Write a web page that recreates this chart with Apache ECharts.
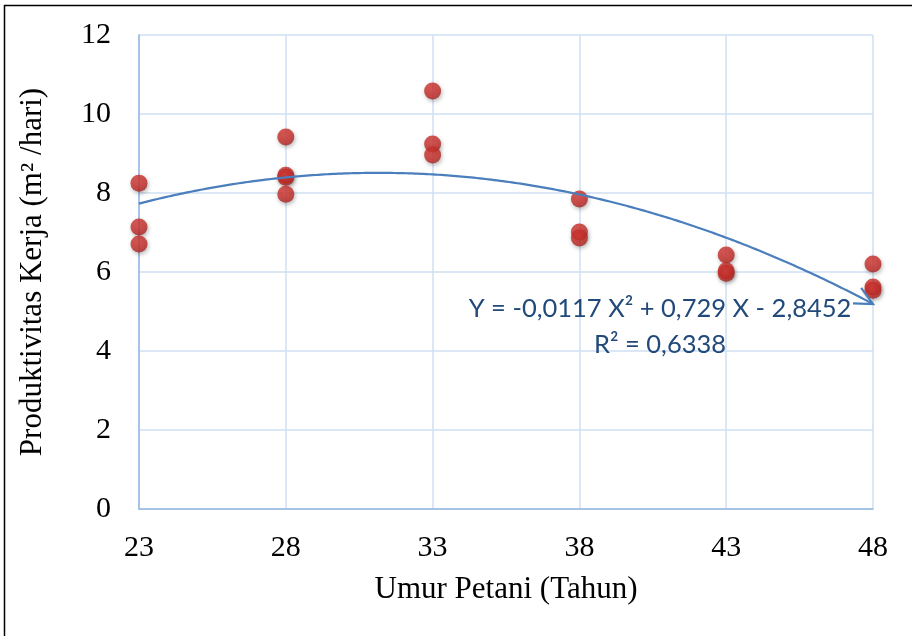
<!DOCTYPE html>
<html>
<head>
<meta charset="utf-8">
<script src="https://cdn.jsdelivr.net/npm/echarts@6/dist/echarts.min.js"></script>
<style>
  html, body { margin: 0; padding: 0; background: #fff; }
  #chart { width: 912px; height: 636px; }
</style>
</head>
<body>
<div id="chart"></div>
<script>
// Farmer age (years) and work productivity (m2/day)
const umur = [23, 23, 23, 28, 28, 28, 28, 33, 33, 33, 38, 38, 38, 43, 43, 43, 48, 48, 48];
const produktivitas = [8.25, 7.14, 6.71, 9.42, 8.45, 8.40, 7.97, 10.58, 9.24, 8.96, 7.85, 7.01, 6.86, 6.43, 6.03, 5.97, 6.20, 5.62, 5.54];

// Polynomial trendline: Y = a X^2 + b X + c
const trendCoef = [-0.0117, 0.729, -2.8452];
const rSquared = '0,6338';
const equationText = 'Y = -0,0117 X\u00B2 + 0,729 X - 2,8452';

const xTicks = [23, 28, 33, 38, 43, 48];
const yTicks = [0, 2, 4, 6, 8, 10, 12];

const xTitle = 'Umur Petani (Tahun)';
const yTitle = 'Produktivitas Kerja (m\u00B2 /hari)';

function trend(x) {
  return trendCoef[0] * x * x + trendCoef[1] * x + trendCoef[2];
}
const xMin = xTicks[0], xMax = xTicks[xTicks.length - 1];
const trendData = [];
for (let i = 0; i <= 250; i++) {
  const x = xMin + (xMax - xMin) * i / 250;
  trendData.push([x, trend(x)]);
}

const chart = echarts.init(document.getElementById('chart'), null, { renderer: 'canvas' });
const serif = '"Liberation Serif", "DejaVu Serif", serif';
const sans = '"Lato", "Open Sans", sans-serif';
const gridColor = '#cfdff2';
const axisColor = '#95b6e0';
const trendColor = '#4a7ebd';

chart.setOption({
  backgroundColor: '#ffffff',
  animation: false,
  grid: { left: 139, right: 39, top: 35, bottom: 127 },
  xAxis: {
    type: 'value',
    min: 23, max: 48, interval: 5,
    name: xTitle,
    nameLocation: 'middle',
    nameGap: 65,
    nameTextStyle: { fontFamily: serif, fontSize: 31, color: '#000' },
    axisLine: { show: true, onZero: false, lineStyle: { color: axisColor, width: 1.5 } },
    axisTick: { show: false },
    axisLabel: { margin: 24, fontFamily: serif, fontSize: 30, color: '#000',
      formatter: v => xTicks.includes(v) ? String(v) : '' },
    splitLine: { show: true, lineStyle: { color: gridColor, width: 1.5 } }
  },
  yAxis: {
    type: 'value',
    min: 0, max: 12, interval: 2,
    name: yTitle,
    nameLocation: 'middle',
    nameGap: 91,
    nameTextStyle: { fontFamily: serif, fontSize: 31, color: '#000' },
    axisLine: { show: true, lineStyle: { color: axisColor, width: 1.5 } },
    axisTick: { show: false },
    axisLabel: { margin: 28, fontFamily: serif, fontSize: 30, color: '#000',
      formatter: v => yTicks.includes(v) ? String(v) : '' },
    splitLine: { show: true, lineStyle: { color: gridColor, width: 1.5 } }
  },
  graphic: [
    { type: 'rect', shape: { x: 4.5, y: 5.5, width: 960, height: 700 },
      style: { fill: 'none', stroke: '#000', lineWidth: 1.5 }, z: 100 },
    { type: 'text', x: 660, y: 309, z: 100,
      style: { text: equationText, fontFamily: sans, fontSize: 25.5,
        fill: '#21497a', align: 'center', verticalAlign: 'middle' } },
    { type: 'text', x: 660, y: 345, z: 100,
      style: { text: 'R\u00B2 = ' + rSquared, fontFamily: sans, fontSize: 25.5,
        fill: '#21497a', align: 'center', verticalAlign: 'middle' } }
  ],
  series: [
    {
      type: 'scatter',
      data: umur.map((x, i) => [x, produktivitas[i]]),
      symbolSize: 17,
      itemStyle: {
        color: new echarts.graphic.RadialGradient(0.45, 0.4, 0.6, [
          { offset: 0, color: '#d83b36' },
          { offset: 0.75, color: '#c22a26' },
          { offset: 1, color: '#a32420' }
        ]),
        shadowColor: 'rgba(0,0,0,0.35)', shadowBlur: 4, shadowOffsetX: 1, shadowOffsetY: 2
      },
      z: 3
    },
    {
      type: 'line',
      data: trendData,
      showSymbol: false,
      symbol: 'none',
      lineStyle: { color: trendColor, width: 2.2 },
      z: 4
    },
    {
      // open arrow head at the end of the trendline
      type: 'custom',
      data: [[xMax]],
      renderItem: function (params, api) {
        const tip = api.coord([xMax, trend(xMax)]);
        const back = api.coord([xMax - 0.3, trend(xMax - 0.3)]);
        const ang = Math.atan2(tip[1] - back[1], tip[0] - back[0]);
        const len = 20, spread = 0.45;
        const p1 = [tip[0] - len * Math.cos(ang - spread), tip[1] - len * Math.sin(ang - spread)];
        const p2 = [tip[0] - len * Math.cos(ang + spread), tip[1] - len * Math.sin(ang + spread)];
        return {
          type: 'polyline',
          shape: { points: [p1, tip, p2] },
          style: { stroke: trendColor, lineWidth: 2.2, fill: 'none', lineJoin: 'miter' }
        };
      },
      z: 5
    }
  ]
});
</script>
</body>
</html>
